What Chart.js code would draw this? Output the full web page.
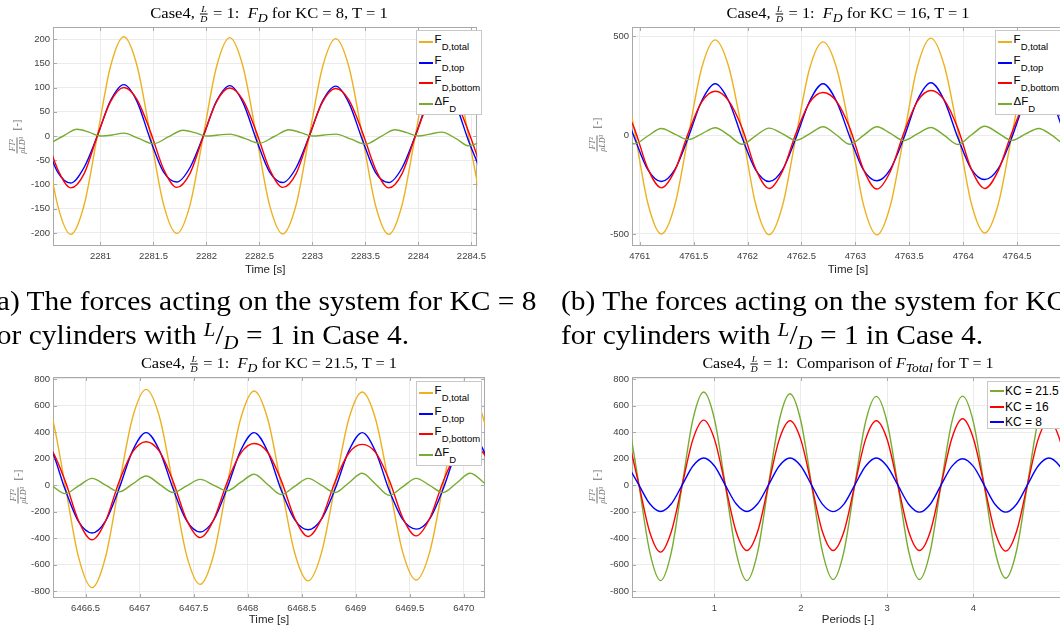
<!DOCTYPE html>
<html>
<head>
<meta charset="utf-8">
<script src="https://cdn.jsdelivr.net/npm/chart.js@4.4.0/dist/chart.umd.min.js"></script>
<style>
  html, body { margin: 0; padding: 0; background: #fff; overflow: hidden; }
  body { width: 1060px; height: 627px; position: relative; }
  canvas { position: absolute; }
  .ttl { position: absolute; white-space: nowrap; font: 15px 'Liberation Serif', serif; color: #000; }
  .fr { display: inline-flex; flex-direction: column; vertical-align: middle; font-size: 9px; line-height: 9px; text-align: center; font-style: italic; margin: 0 1px; }
  .fr span:first-child { border-bottom: 0.8px solid currentColor; padding: 0 1px; }
  .ylab { position: absolute; white-space: nowrap; color: #707070; font: 11px 'Liberation Serif', serif; transform: translate(-50%, -50%) rotate(-90deg); }
  .ylab .fr { font-size: 8px; line-height: 9px; }
  .lg { position: absolute; background: #fff; border: 1px solid #c8c8c8; box-sizing: border-box; font-family: 'Liberation Sans', Arial, sans-serif; color: #000; }
  .lg .row { position: absolute; left: 0; height: 0; width: 100%; }
  .lg .ln { position: absolute; display: block; left: 2px; width: 14px; height: 2px; top: -1px; }
  .lg .tx { position: absolute; left: 17.6px; top: -8px; font-size: 11.5px; line-height: 11.5px; white-space: nowrap; }
  .lg sub { font-size: 9.5px; vertical-align: -6.5px; line-height: 0; }
  .lg.kc .tx { font-size: 12px; line-height: 12px; top: -6px; left: 17px; }
  .cap { position: absolute; white-space: nowrap; font: 27px 'Liberation Serif', serif; line-height: 27px; color: #000; transform-origin: left center; }
  .nf i { font-size: 19px; position: relative; }
</style>
</head>
<body>
<canvas id="chartA" width="491" height="278" style="left:0px;top:0px"></canvas>
<canvas id="chartB" width="491" height="278" style="left:579px;top:0px"></canvas>
<canvas id="chartC" width="491" height="280" style="left:0px;top:350px"></canvas>
<canvas id="chartD" width="491" height="280" style="left:579px;top:350px"></canvas>

<div class="ttl" data-w="237" style="left:269px;top:15px">Case4, <span class="fr"><span>L</span><span>D</span></span> = 1:&nbsp; <i>F</i><sub><i>D</i></sub> for KC = 8, T = 1</div>
<div class="ttl" data-w="243" style="left:848px;top:15px">Case4, <span class="fr"><span>L</span><span>D</span></span> = 1:&nbsp; <i>F</i><sub><i>D</i></sub> for KC = 16, T = 1</div>
<div class="ttl" data-w="256" style="left:269px;top:365px">Case4, <span class="fr"><span>L</span><span>D</span></span> = 1:&nbsp; <i>F</i><sub><i>D</i></sub> for KC = 21.5, T = 1</div>
<div class="ttl" data-w="291" style="left:848px;top:365px">Case4, <span class="fr"><span>L</span><span>D</span></span> = 1:&nbsp; Comparison of <i>F</i><sub><i>Total</i></sub> for T = 1</div>

<div class="ylab" style="left:17px;top:137px"><span class="fr"><span>FT²</span><span>ρLD³</span></span>&nbsp; [-]</div>
<div class="ylab" style="left:597px;top:135px"><span class="fr"><span>FT²</span><span>ρLD³</span></span>&nbsp; [-]</div>
<div class="ylab" style="left:18px;top:487px"><span class="fr"><span>FT²</span><span>ρLD³</span></span>&nbsp; [-]</div>
<div class="ylab" style="left:597px;top:487px"><span class="fr"><span>FT²</span><span>ρLD³</span></span>&nbsp; [-]</div>

<div class="lg" style="left:416px;top:30px;width:66px;height:85px">
  <div class="row" style="top:11px"><i class="ln" style="background:#EDB120"></i><span class="tx">F<sub>D,total</sub></span></div>
  <div class="row" style="top:32px"><i class="ln" style="background:#0000FF"></i><span class="tx">F<sub>D,top</sub></span></div>
  <div class="row" style="top:52px"><i class="ln" style="background:#FF0000"></i><span class="tx">F<sub>D,bottom</sub></span></div>
  <div class="row" style="top:73px"><i class="ln" style="background:#77AC30"></i><span class="tx">ΔF<sub>D</sub></span></div>
</div>
<div class="lg" style="left:995px;top:30px;width:80px;height:85px">
  <div class="row" style="top:11px"><i class="ln" style="background:#EDB120"></i><span class="tx">F<sub>D,total</sub></span></div>
  <div class="row" style="top:32px"><i class="ln" style="background:#0000FF"></i><span class="tx">F<sub>D,top</sub></span></div>
  <div class="row" style="top:52px"><i class="ln" style="background:#FF0000"></i><span class="tx">F<sub>D,bottom</sub></span></div>
  <div class="row" style="top:73px"><i class="ln" style="background:#77AC30"></i><span class="tx">ΔF<sub>D</sub></span></div>
</div>
<div class="lg" style="left:416px;top:381px;width:66px;height:85px">
  <div class="row" style="top:11px"><i class="ln" style="background:#EDB120"></i><span class="tx">F<sub>D,total</sub></span></div>
  <div class="row" style="top:32px"><i class="ln" style="background:#0000FF"></i><span class="tx">F<sub>D,top</sub></span></div>
  <div class="row" style="top:52px"><i class="ln" style="background:#FF0000"></i><span class="tx">F<sub>D,bottom</sub></span></div>
  <div class="row" style="top:73px"><i class="ln" style="background:#77AC30"></i><span class="tx">ΔF<sub>D</sub></span></div>
</div>
<div class="lg kc" style="left:987px;top:381px;width:90px;height:48px">
  <div class="row" style="top:9px"><i class="ln" style="background:#77AC30"></i><span class="tx">KC = 21.5</span></div>
  <div class="row" style="top:25px"><i class="ln" style="background:#FF0000"></i><span class="tx">KC = 16</span></div>
  <div class="row" style="top:40px"><i class="ln" style="background:#0000FF"></i><span class="tx">KC = 8</span></div>
</div>

<div class="cap" id="capA1" style="left:-13px;top:288.4px">(a) The forces acting on the system for KC = 8</div>
<div class="cap" style="left:-13px;top:322.4px">for cylinders with <span class="nf"><i style="top:-8px">L</i>/<i style="top:5px">D</i></span> = 1 in Case 4.</div>
<div class="cap" style="left:561px;top:288.4px">(b) The forces acting on the system for KC = 16</div>
<div class="cap" style="left:561px;top:322.4px">for cylinders with <span class="nf"><i style="top:-8px">L</i>/<i style="top:5px">D</i></span> = 1 in Case 4.</div>

<script>
// (a) KC = 8
const timeA = [2280.47, 2280.595, 2280.72, 2280.845, 2280.97, 2281.095, 2281.22, 2281.345, 2281.47, 2281.595, 2281.72, 2281.845, 2281.97, 2282.095, 2282.22, 2282.345, 2282.47, 2282.595, 2282.72, 2282.845, 2282.97, 2283.095, 2283.22, 2283.345, 2283.47, 2283.595, 2283.72, 2283.845, 2283.97, 2284.095, 2284.22, 2284.345, 2284.47, 2284.595];
const totalA = [5, -142, -203, -143, 0, 144, 205, 145, 3, -141, -201, -142, 0, 143, 203, 143, 2, -142, -202, -143, 0, 142, 201, 142, 2, -143, -203, -143, 0, 143, 203, 143, 3, -142];
const topA = [-5, -74, -97, -65, 0, 73, 106, 71, -7, -74, -95, -65, 0, 72, 104, 69, -7, -74, -96, -66, 0, 72, 103, 68, -7, -75, -96, -66, 0, 74, 106, 69, -8, -75];
const bottomA = [10, -68, -107, -78, 0, 71, 100, 75, 10, -68, -106, -77, -1, 71, 99, 74, 9, -68, -106, -78, -1, 70, 98, 74, 9, -68, -107, -78, -1, 69, 97, 75, 11, -67];
const dTimeA = [2280.36, 2280.5, 2280.64, 2280.78, 2280.89, 2281, 2281.11, 2281.22, 2281.36, 2281.5, 2281.64, 2281.78, 2281.89, 2282, 2282.11, 2282.22, 2282.36, 2282.5, 2282.64, 2282.78, 2282.89, 2283, 2283.11, 2283.22, 2283.36, 2283.5, 2283.64, 2283.78, 2283.89, 2284, 2284.11, 2284.22, 2284.36, 2284.47, 2284.6];
const deltaA = [-5, -15, -1, 14, 8, 0, 2, 6, -5, -16, -2, 12, 7, 0, 2, 4, -5, -15, -1, 13, 7, 0, 2, 4, -6, -17, -2, 13, 7, 0, 4, 8, -6, -20, -12];

// (b) KC = 16
const timeB = [4760.825, 4760.95, 4761.075, 4761.2, 4761.325, 4761.45, 4761.575, 4761.7, 4761.825, 4761.95, 4762.075, 4762.2, 4762.325, 4762.45, 4762.575, 4762.7, 4762.825, 4762.95, 4763.075, 4763.2, 4763.325, 4763.45, 4763.575, 4763.7, 4763.825, 4763.95, 4764.075, 4764.2, 4764.325, 4764.45, 4764.575, 4764.7, 4764.825, 4764.95, 4765.075];
const totalB = [350, 25, -345, -500, -355, -5, 340, 481, 345, 20, -350, -504, -355, -5, 335, 471, 340, 20, -352, -505, -355, -5, 345, 490, 350, 20, -345, -495, -350, -5, 340, 485, 345, 20, -345];
const topB = [172, -12, -175, -235, -175, -12, 173, 259, 172, -14, -176, -235, -175, -13, 170, 259, 170, -12, -176, -231, -172, -14, 176, 264, 174, -13, -172, -225, -170, -14, 172, 262, 172, -12, -172];
const bottomB = [175, 33, -170, -267, -180, 10, 167, 221, 173, 34, -172, -270, -181, 10, 164, 215, 170, 33, -174, -273, -183, 11, 170, 225, 176, 34, -172, -270, -180, 10, 166, 222, 173, 34, -172];
const deltaB = [-3, -45, -5, 33, 5, -23, 6, 37, -1, -47, -4, 35, 6, -27, 6, 42, 0, -47, -2, 42, 8, -28, 6, 38, -2, -48, 0, 44, 10, -27, 4, 33, -2, -46, -2];

// (c) KC = 21.5
const timeC = [6466.06, 6466.185, 6466.31, 6466.435, 6466.56, 6466.685, 6466.81, 6466.935, 6467.06, 6467.185, 6467.31, 6467.435, 6467.56, 6467.685, 6467.81, 6467.935, 6468.06, 6468.185, 6468.31, 6468.435, 6468.56, 6468.685, 6468.81, 6468.935, 6469.06, 6469.185, 6469.31, 6469.435, 6469.56, 6469.685, 6469.81, 6469.935, 6470.06, 6470.185, 6470.31];
const totalC = [740, 530, 0, -545, -773, -540, 0, 510, 722, 510, 0, -530, -748, -525, 0, 500, 710, 500, 0, -510, -722, -505, 0, 495, 702, 495, 0, -505, -715, -505, 0, 500, 705, 495, 0];
const topC = [400, 264, -32, -276, -361, -270, -26, 260, 396, 258, -28, -268, -353, -263, -22, 260, 396, 253, -36, -260, -336, -254, -28, 256, 396, 251, -39, -259, -332, -254, -28, 258, 397, 258, -35];
const bottomC = [340, 266, 32, -270, -412, -270, 26, 250, 327, 252, 28, -262, -396, -262, 22, 240, 314, 248, 36, -250, -387, -252, 28, 240, 307, 245, 39, -246, -383, -252, 28, 242, 308, 238, 35];
const deltaC = [60, -2, -64, -6, 51, 0, -51, 9, 69, 6, -56, -6, 43, 0, -43, 20, 82, 5, -71, -10, 51, -2, -56, 16, 89, 6, -77, -13, 51, -2, -56, 16, 89, 20, -70];

// (d) comparison of F_total
const periodsD = [0, 0.125, 0.25, 0.375, 0.5, 0.625, 0.75, 0.875, 1, 1.125, 1.25, 1.375, 1.5, 1.625, 1.75, 1.875, 2, 2.125, 2.25, 2.375, 2.5, 2.625, 2.75, 2.875, 3, 3.125, 3.25, 3.375, 3.5, 3.625, 3.75, 3.875, 4, 4.125, 4.25, 4.375, 4.5, 4.625, 4.75, 4.875, 5, 5.125];
const kc215 = [500, 0, -505, -720, -505, 0, 495, 702, 495, 0, -505, -720, -505, 0, 487, 689, 485, 0, -500, -712, -500, 0, 475, 669, 474, 0, -500, -712, -500, 0, 475, 671, 475, 0, -495, -702, -495, 0, 485, 690, 488, 0];
const kc16 = [355, 0, -355, -505, -350, 0, 345, 490, 345, 0, -350, -493, -350, 0, 343, 485, 343, 0, -350, -493, -350, 0, 343, 485, 345, 0, -350, -493, -352, 0, 352, 500, 352, 0, -352, -498, -350, 0, 345, 488, 345, 0];
const kc8 = [143, 0, -141, -199, -141, 0, 144, 204, 144, 0, -141, -199, -141, 0, 144, 204, 144, 0, -143, -200, -143, 0, 142, 204, 142, 0, -144, -204, -144, 0, 141, 199, 141, 0, -144, -204, -144, 0, 144, 204, 144, 0];

// ticks
const xTicksA = [2281, 2281.5, 2282, 2282.5, 2283, 2283.5, 2284, 2284.5];
const yTicksA = [-200, -150, -100, -50, 0, 50, 100, 150, 200];
const xTicksB = [4761, 4761.5, 4762, 4762.5, 4763, 4763.5, 4764, 4764.5];
const yTicksB = [-500, 0, 500];
const xTicksC = [6466.5, 6467, 6467.5, 6468, 6468.5, 6469, 6469.5, 6470];
const yTicksC = [-800, -600, -400, -200, 0, 200, 400, 600, 800];
const xTicksD = [1, 2, 3, 4];

const colTotal = '#EDB120';
const colTop = '#0000FF';
const colBottom = '#FF0000';
const colDelta = '#77AC30';
const gridColor = '#ebebeb';
const boxColor = '#a9a9a9';
const labelColor = '#404040';
const sans = "'Liberation Sans', Arial, sans-serif";

const pts = (xs, ys) => xs.map((x, i) => ({ x, y: ys[i] }));

// matlab style box with inward tick marks
const boxPlugin = {
  id: 'box',
  beforeDatasetsDraw(chart) {
    const { ctx, chartArea: a, scales } = chart;
    ctx.save();
    ctx.strokeStyle = boxColor;
    ctx.lineWidth = 1;
    ctx.strokeRect(Math.round(a.left) + 0.5, Math.round(a.top) + 0.5, Math.round(a.width) - 1, Math.round(a.height) - 1);
    ctx.beginPath();
    scales.x.ticks.forEach((t) => {
      const px = Math.round(scales.x.getPixelForValue(t.value)) + 0.5;
      ctx.moveTo(px, a.bottom); ctx.lineTo(px, a.bottom - 4);
      ctx.moveTo(px, a.top); ctx.lineTo(px, a.top + 4);
    });
    scales.y.ticks.forEach((t) => {
      const py = Math.round(scales.y.getPixelForValue(t.value)) + 0.5;
      ctx.moveTo(a.left, py); ctx.lineTo(a.left + 4, py);
      ctx.moveTo(a.right, py); ctx.lineTo(a.right - 4, py);
    });
    ctx.stroke();
    ctx.restore();
  },
};

const makeChart = (id, opt) => new Chart(document.getElementById(id), {
  type: 'line',
  data: {
    datasets: opt.series.map((s, i) => ({
      label: s.label,
      data: pts(s.x, s.y),
      borderColor: s.color,
      borderWidth: 1.4,
      pointRadius: 0,
      fill: false,
      cubicInterpolationMode: 'monotone',
      order: opt.series.length - i,
    })),
  },
  options: {
    responsive: false,
    animation: false,
    events: [],
    layout: { padding: { top: 27, right: 6, left: 0, bottom: 0 }, autoPadding: false },
    plugins: { legend: { display: false }, tooltip: { enabled: false } },
    scales: {
      x: {
        type: 'linear',
        min: opt.xMin,
        max: opt.xMax,
        afterBuildTicks: (ax) => { ax.ticks = opt.xTicks.map((v) => ({ value: v })); },
        afterFit: (ax) => { ax.height = 32; },
        ticks: { color: labelColor, font: { family: sans, size: 9.5 }, padding: 5, maxRotation: 0, autoSkip: false, callback: (v) => String(v) },
        grid: { color: gridColor, drawTicks: false },
        border: { display: false },
        title: { display: true, text: opt.xTitle, color: '#262626', font: { family: sans, size: 11.5 }, padding: { top: 0, bottom: opt.titleGap } },
      },
      y: {
        type: 'linear',
        min: opt.yMin,
        max: opt.yMax,
        afterBuildTicks: (ax) => { ax.ticks = opt.yTicks.map((v) => ({ value: v })); },
        afterFit: (ax) => { ax.width = 53; },
        ticks: { color: labelColor, font: { family: sans, size: 9.5 }, padding: 3, autoSkip: false, callback: (v) => String(v) },
        grid: { color: gridColor, drawTicks: false },
        border: { display: false },
      },
    },
  },
  plugins: [boxPlugin],
});

makeChart('chartA', {
  xMin: 2280.552, xMax: 2284.555, yMin: -227, yMax: 225,
  xTicks: xTicksA, yTicks: yTicksA, xTitle: 'Time [s]', titleGap: 1,
  series: [
    { label: 'F_D,total', x: timeA, y: totalA, color: colTotal },
    { label: 'F_D,top', x: timeA, y: topA, color: colTop },
    { label: 'F_D,bottom', x: timeA, y: bottomA, color: colBottom },
    { label: 'ΔF_D', x: dTimeA, y: deltaA, color: colDelta },
  ],
});

makeChart('chartB', {
  xMin: 4760.928, xMax: 4764.935, yMin: -561, yMax: 546,
  xTicks: xTicksB, yTicks: yTicksB, xTitle: 'Time [s]', titleGap: 1,
  series: [
    { label: 'F_D,total', x: timeB, y: totalB, color: colTotal },
    { label: 'F_D,top', x: timeB, y: topB, color: colTop },
    { label: 'F_D,bottom', x: timeB, y: bottomB, color: colBottom },
    { label: 'ΔF_D', x: timeB, y: deltaB, color: colDelta },
  ],
});

makeChart('chartC', {
  xMin: 6466.198, xMax: 6470.197, yMin: -851, yMax: 815,
  xTicks: xTicksC, yTicks: yTicksC, xTitle: 'Time [s]', titleGap: 3,
  series: [
    { label: 'F_D,total', x: timeC, y: totalC, color: colTotal },
    { label: 'F_D,top', x: timeC, y: topC, color: colTop },
    { label: 'F_D,bottom', x: timeC, y: bottomC, color: colBottom },
    { label: 'ΔF_D', x: timeC, y: deltaC, color: colDelta },
  ],
});

makeChart('chartD', {
  xMin: 0.044, xMax: 5.05, yMin: -851, yMax: 815,
  xTicks: xTicksD, yTicks: yTicksC, xTitle: 'Periods [-]', titleGap: 3,
  series: [
    { label: 'KC = 21.5', x: periodsD, y: kc215, color: colDelta },
    { label: 'KC = 16', x: periodsD, y: kc16, color: colBottom },
    { label: 'KC = 8', x: periodsD, y: kc8, color: colTop },
  ],
});

// stretch the serif texts to the widths of the original typesetting
document.querySelectorAll('.ttl').forEach((el) => {
  const s = Number(el.dataset.w) / el.offsetWidth;
  el.style.transform = `translate(-50%, -50%) scaleX(${s})`;
});
const capScale = 550 / document.getElementById('capA1').offsetWidth;
document.querySelectorAll('.cap').forEach((el) => { el.style.transform = `scaleX(${capScale})`; });
</script>
</body>
</html>
